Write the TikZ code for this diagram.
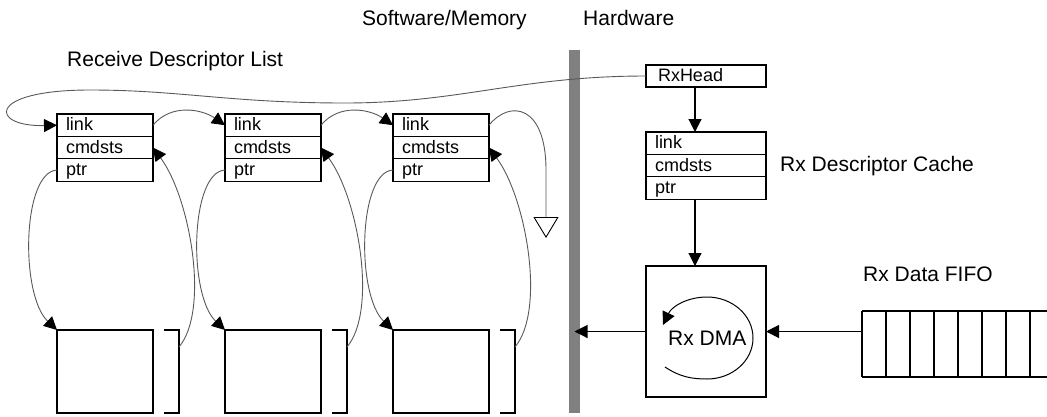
\documentclass[tikz,border=0pt]{standalone}
\usepackage{fontspec}
\setmainfont{Liberation Sans}
\usetikzlibrary{arrows.meta}
\begin{document}
\begin{tikzpicture}[x=1pt,y=-1pt,
  cell/.style={draw=black, line width=1.2pt, minimum width=96pt, minimum height=22.4pt,
    inner xsep=9pt, inner ysep=0pt, outer sep=0pt, text width=78pt, align=left, text height=13pt,
    text depth=2pt, font=\fontsize{18}{20}\selectfont, anchor=north west},
  hcell/.style={cell, minimum width=120pt, text width=102pt},
  plainbox/.style={draw=black, line width=1.2pt, inner sep=0pt, outer sep=0pt, anchor=north west},
  boxline/.style={draw=black, line width=1.2pt},
  lbl/.style={font=\fontsize{21}{25}\selectfont, anchor=base west, inner sep=0pt},
  conn/.style={draw=black!65, line width=0.9pt, -{Triangle[length=13pt,width=13pt,color=black]}},
  arr/.style={draw=black, line width=1.1pt, -{Triangle[length=13pt,width=13pt]}},
]
\useasboundingbox (0,0) rectangle (1047,416);

% divider bar
\node[fill=black!50, minimum width=11pt, minimum height=363pt, inner sep=0pt, outer sep=0pt, anchor=north west] (bar) at (569,50) {};

% labels
\node[lbl] (swlbl) at (362,25) {Software/Memory};
\node[lbl] (hwlbl) at (583,25) {Hardware};
\node[lbl] (rdl) at (67,66) {Receive Descriptor List};
\node[lbl] (rdc) at (780,171) {Rx Descriptor Cache};
\node[lbl] (rdf) at (863,281) {Rx Data FIFO};

% descriptor list
\foreach \i/\x in {1/57,2/225,3/393} {
  \node[cell] (l\i) at (\x,114) {link};
  \node[cell] (c\i) at (l\i.south west) {cmdsts};
  \node[cell] (p\i) at (c\i.south west) {ptr};
  \node[plainbox, minimum width=96pt, minimum height=83pt] (buf\i) at (\x,330) {};
  \draw[boxline] (\x+107,330) -- (\x+122,330) -- (\x+122,413) -- (\x+107,413);
  \coordinate (br\i) at (\x+122,347);
  \draw[conn] (p\i.west) .. controls +(-35,2) and +(-37,-35) .. (buf\i.north west);
  \draw[conn] (br\i) .. controls +(31,-37) and +(37,50) .. (c\i.east);
}
\draw[conn] (l1.east) .. controls +(18,-22) and +(-23,-16) .. (l2.west);
\draw[conn] (l2.east) .. controls +(18,-22) and +(-23,-16) .. (l3.west);
\coordinate (nullend) at (546,238);
\draw[draw=black!65, line width=0.9pt, -{Triangle[open,length=21pt,width=25pt,color=black,fill=white]}]
  (l3.east) .. controls +(21,-26) and +(0,-65) .. (546,170) -- (nullend);

% hardware side
\node[hcell, inner xsep=12pt, text width=96pt, minimum height=22pt] (rxhead) at (646,65) {RxHead};
\node[hcell] (h1) at (646,132) {link};
\node[hcell] (h2) at (h1.south west) {cmdsts};
\node[hcell] (h3) at (h2.south west) {ptr};
\node[plainbox, minimum width=120pt, minimum height=131pt] (dma) at (646,266) {};
\node[lbl] (dmalbl) at (668,345) {Rx DMA};
\coordinate (ax) at (695,0);
\draw[arr] (rxhead.south -| ax) -- (h1.north -| ax);
\draw[arr] (h3.south -| ax) -- (dma.north -| ax);
\draw[arr] (dma.west) -- (bar.center |- dma.west);

% FIFO
\node[inner sep=0pt, outer sep=0pt, minimum width=185pt, minimum height=66pt, anchor=north west] (fifo) at (862,311) {};
\draw[boxline] (862,311) -- (1047,311) (862,377) -- (1047,377);
\foreach \x in {862,886,910,934,958,982,1006,1030} {
  \draw[boxline] (\x,311) -- (\x,377);
}
\draw[arr] (fifo.west |- dma.east) -- (dma.east);

% DMA loop
\draw[draw=black, line width=1pt, -{Triangle[length=13pt,width=13pt]}]
  (665,367) .. controls (680,377) and (692,379) .. (707,379)
  .. controls (732,379) and (753,361) .. (753,338)
  .. controls (753,315) and (732,297) .. (707,297)
  .. controls (688,297) and (672,306) .. (663,325);

% head pointer to first descriptor
\draw[conn] (rxhead.west) .. controls (520,76) and (460,103) .. (345,103)
  .. controls (230,103) and (180,90) .. (90,90)
  .. controls (-15,90) and (-10,127) .. (l1.west);
\end{tikzpicture}
\end{document}
